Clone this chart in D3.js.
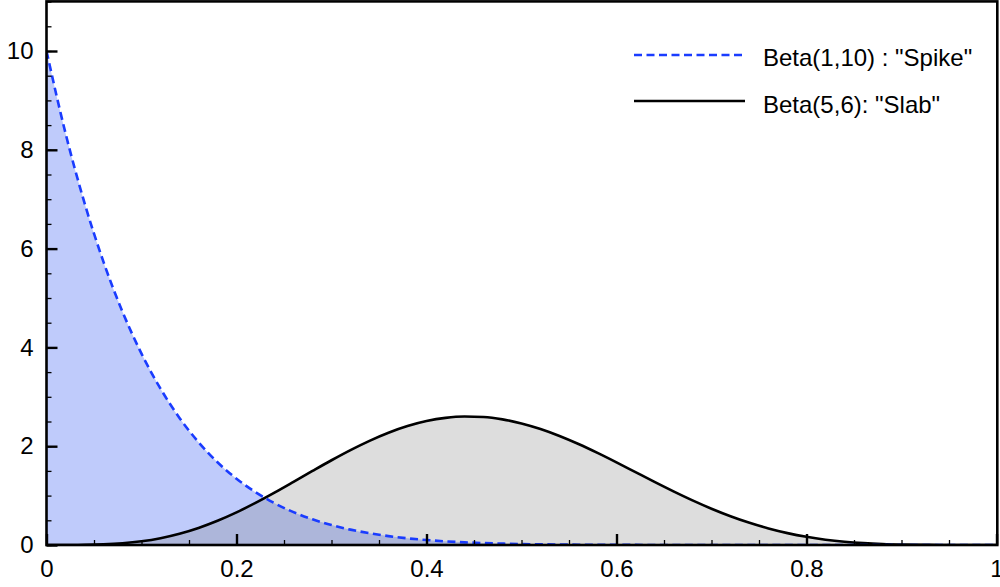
<!DOCTYPE html>
<html>
<head>
<meta charset="utf-8">
<script src="https://cdn.jsdelivr.net/npm/d3@7"></script>
<style>
  html, body { margin: 0; padding: 0; background: #fff; }
  svg { display: block; font-family: "Liberation Sans", Arial, Helvetica, sans-serif; }
</style>
</head>
<body>
<svg id="chart" width="1000" height="587"></svg>
<script>
// Sample grid on [0, 1]
const xs = [0,0.02,0.04,0.06,0.08,0.10,0.12,0.14,0.16,0.18,0.20,0.22,0.24,0.26,0.28,0.30,0.32,0.34,0.36,0.38,0.40,0.42,0.44,0.46,0.48,0.50,0.52,0.54,0.56,0.58,0.60,0.62,0.64,0.66,0.68,0.70,0.72,0.74,0.76,0.78,0.80,0.82,0.84,0.86,0.88,0.90,0.92,0.94,0.96,0.98,1.00];

// Beta(1,10) density, "Spike"
const spike = [10,8.337,6.925,5.730,4.722,3.874,3.165,2.573,2.082,1.676,1.342,1.069,0.846,0.665,0.520,0.404,0.311,0.238,0.180,0.135,0.101,0.0742,0.0541,0.0390,0.0278,0.0195,0.0135,0.0092,0.0062,0.0041,0.0026,0.0017,0.0010,0.0006,0.0004,0.0002,0.0001,0.0001,0,0,0,0,0,0,0,0,0,0,0,0,0];

// Beta(5,6) density, "Slab"
const slab = [0,0.0002,0.0026,0.0120,0.0340,0.0744,0.1379,0.2277,0.3453,0.4904,0.6606,0.8522,1.0600,1.2777,1.4985,1.7153,1.9209,2.1087,2.2724,2.4069,2.5082,2.5734,2.6009,2.5905,2.5430,2.4609,2.3474,2.2066,2.0436,1.8635,1.6722,1.4752,1.2782,1.0863,0.9040,0.7351,0.5828,0.4489,0.3347,0.2404,0.1652,0.1076,0.0658,0.0371,0.0188,0.0083,0.0030,0.0008,0.0001,0,0];

const seriesNames = ['Beta(1,10) : "Spike"', 'Beta(5,6): "Slab"'];
const xMajorTicks = [0, 0.2, 0.4, 0.6, 0.8, 1];
const xTickLabels = ["0", "0.2", "0.4", "0.6", "0.8", "1"];
const yMajorTicks = [0, 2, 4, 6, 8, 10];
const yTickLabels = ["0", "2", "4", "6", "8", "10"];

const svg = d3.select("#chart");
const plotLeft = 46.5, plotRight = 996.5, plotTop = 1.6, plotBottom = 545;

const x = d3.scaleLinear().domain([0, 1]).range([plotLeft, plotRight]);
const y = d3.scaleLinear().domain([0, 11]).range([plotBottom, plotTop]);

const spikePts = xs.map((v, i) => [v, spike[i]]);
const slabPts = xs.map((v, i) => [v, slab[i]]);

const area = d3.area().x(d => x(d[0])).y0(y(0)).y1(d => y(d[1])).curve(d3.curveMonotoneX);
const line = d3.line().x(d => x(d[0])).y(d => y(d[1])).curve(d3.curveMonotoneX);

const plot = svg.append("g");
plot.append("clipPath").attr("id", "clip")
  .append("rect").attr("x", plotLeft).attr("y", plotTop)
  .attr("width", plotRight - plotLeft).attr("height", plotBottom - plotTop);
const inner = plot.append("g").attr("clip-path", "url(#clip)");

// filled densities
inner.append("path").datum(spikePts).attr("d", area).attr("fill", "#bfcbfb");
inner.append("path").datum(slabPts).attr("d", area).attr("fill", "rgba(120,120,120,0.25)");

// density outlines
inner.append("path").datum(slabPts).attr("d", line)
  .attr("fill", "none").attr("stroke", "#000").attr("stroke-width", 2.6);
inner.append("path").datum(spikePts).attr("d", line)
  .attr("fill", "none").attr("stroke", "#1a3cff").attr("stroke-width", 2.6)
  .attr("stroke-dasharray", "8,4.5");

// inward-pointing ticks: minor then major with labels
const fontSize = 24;
svg.append("g").attr("transform", `translate(0,${plotBottom})`)
  .call(d3.axisBottom(x).tickValues(d3.range(0, 1.0001, 0.05)).tickSize(-5).tickFormat(""))
  .call(g => g.select(".domain").remove())
  .call(g => g.selectAll("line").attr("stroke-width", 1.3));
svg.append("g").attr("transform", `translate(0,${plotBottom})`)
  .call(d3.axisBottom(x).tickValues(xMajorTicks).tickSize(-11).tickPadding(15)
    .tickFormat((d, i) => xTickLabels[i]))
  .call(g => g.select(".domain").remove())
  .call(g => g.selectAll("line").attr("stroke-width", 2.4))
  .call(g => g.selectAll("text").attr("font-size", fontSize).attr("fill", "#000")
    .attr("font-family", "'Liberation Sans', Arial, sans-serif"));

svg.append("g").attr("transform", `translate(${plotLeft},0)`)
  .call(d3.axisLeft(y).tickValues(d3.range(0, 11.0001, 0.5)).tickSize(-5).tickFormat(""))
  .call(g => g.select(".domain").remove())
  .call(g => g.selectAll("line").attr("stroke-width", 1.3));
svg.append("g").attr("transform", `translate(${plotLeft},0)`)
  .call(d3.axisLeft(y).tickValues(yMajorTicks).tickSize(-11).tickPadding(13)
    .tickFormat((d, i) => yTickLabels[i]))
  .call(g => g.select(".domain").remove())
  .call(g => g.selectAll("line").attr("stroke-width", 2.4))
  .call(g => g.selectAll("text").attr("font-size", fontSize).attr("fill", "#000")
    .attr("font-family", "'Liberation Sans', Arial, sans-serif"));

// frame
svg.append("rect").attr("x", plotLeft).attr("y", 1.4)
  .attr("width", plotRight - plotLeft + 0.8).attr("height", plotBottom - 1.4)
  .attr("fill", "none").attr("stroke", "#000").attr("stroke-width", 2.6);

// legend
const legend = svg.append("g");
const legendRows = [
  { name: seriesNames[0], stroke: "#1a3cff", dash: "8,4.5", ly: 55, ty: 66 },
  { name: seriesNames[1], stroke: "#000", dash: null, ly: 101, ty: 112.5 }
];
legendRows.forEach(r => {
  legend.append("line").attr("x1", 634).attr("x2", 745).attr("y1", r.ly).attr("y2", r.ly)
    .attr("stroke", r.stroke).attr("stroke-width", 2.6)
    .attr("stroke-dasharray", r.dash);
  legend.append("text").attr("x", 763).attr("y", r.ty)
    .attr("font-size", fontSize).attr("fill", "#000").text(r.name);
});
</script>
</body>
</html>
